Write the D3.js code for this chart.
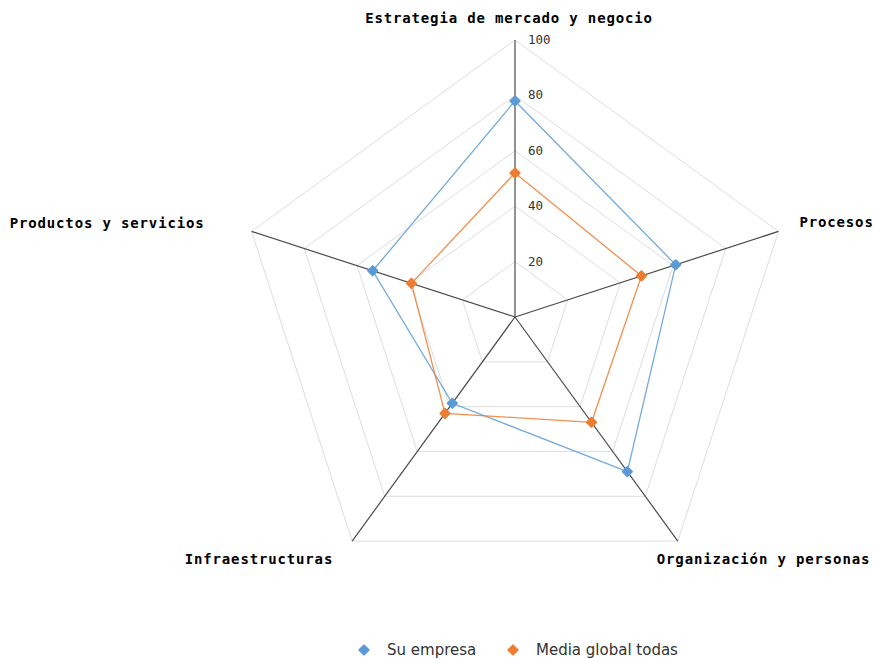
<!DOCTYPE html>
<html><head><meta charset="utf-8">
<script src="https://cdn.jsdelivr.net/npm/d3@7"></script>
<style>body{margin:0;background:#fff}svg{display:block}</style>
</head><body>
<svg id="c" width="874" height="659"></svg>
<script>
const categories = ["Estrategia de mercado y negocio","Procesos","Organización y personas","Infraestructuras","Productos y servicios"];
const suEmpresa = [78, 61, 69, 38.5, 54];
const mediaGlobal = [52, 48, 47, 43, 39.3];
const ticks = [20, 40, 60, 80, 100];
const seriesNames = ["Su empresa","Media global todas"];
const colors = ["#5b9bd5","#ed7d31"];

const svg = d3.select("#c");
const cx = 515, cy = 317, R = 277;
const r = d3.scaleLinear().domain([0,100]).range([0,R]);
const ang = d3.scalePoint().domain(categories).range([0, 2*Math.PI*4/5]);
const pt = (c, v) => { const a = ang(c); return [cx + r(v)*Math.sin(a), cy - r(v)*Math.cos(a)]; };

const g = svg.append("g");
ticks.forEach(t => {
  g.append("path").attr("d", d3.line()(categories.map(c => pt(c,t))) + "Z")
   .attr("fill","none").attr("stroke","#dedede").attr("stroke-width",1);
});
categories.forEach(c => {
  const [x,y] = pt(c,100);
  g.append("line").attr("x1",cx).attr("y1",cy).attr("x2",x).attr("y2",y)
   .attr("stroke", "#4a4a4a").attr("stroke-width",1.2);
});
ticks.forEach(t => {
  const [x,y] = pt(categories[0], t);
  g.append("text").attr("x", x+13).attr("y", y+4).text(t)
   .attr("font-family","DejaVu Sans Mono").attr("font-size",12.5).attr("fill","#333");
});
const labelPos = [
  {dx:-6, dy:-17, anchor:"middle"},
  {dx:21, dy:-4, anchor:"start"},
  {dx:-21, dy:23, anchor:"start"},
  {dx:-19, dy:23, anchor:"end"},
  {dx:-47, dy:-3, anchor:"end"}
];
categories.forEach((c,i) => {
  const [x,y] = pt(c,100);
  const lp = labelPos[i];
  g.append("text").attr("x", x+lp.dx).attr("y", y+lp.dy).text(c)
   .attr("text-anchor", lp.anchor)
   .attr("font-family","DejaVu Sans Mono").attr("font-weight","bold")
   .attr("font-size",14).attr("letter-spacing","0.85px").attr("fill","#000");
});

const marker = d3.symbol().type(d3.symbolSquare).size(42);
[suEmpresa, mediaGlobal].forEach((vals, si) => {
  const pts = categories.map((c,i) => pt(c, vals[i]));
  svg.append("path").attr("d", d3.line()(pts) + "Z")
    .attr("fill","none").attr("stroke", colors[si]).attr("stroke-width",1.3).attr("stroke-opacity",0.85);
  svg.append("g").selectAll("path").data(pts).join("path")
    .attr("d", marker).attr("transform", d => `translate(${d[0]},${d[1]}) rotate(45)`)
    .attr("fill", colors[si]).attr("stroke", colors[si]).attr("stroke-width",2).attr("stroke-linejoin","round");
});

const legX = [364, 513];
seriesNames.forEach((n,i) => {
  const lg = svg.append("g").attr("transform", `translate(${legX[i]},650)`);
  lg.append("path").attr("d", marker).attr("transform","rotate(45)")
    .attr("fill", colors[i]).attr("stroke", colors[i]).attr("stroke-width",2).attr("stroke-linejoin","round");
  lg.append("text").attr("x", 23).attr("y", 5).text(n)
    .attr("font-family","DejaVu Sans").attr("font-size",15).attr("fill","#333");
});
</script>
</body></html>
